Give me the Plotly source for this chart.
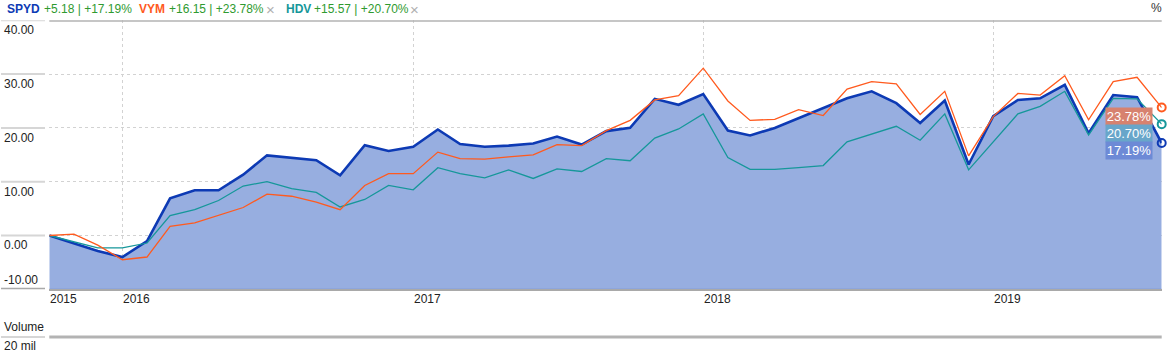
import pandas as pd
import plotly.graph_objects as go

# ---------------- data ----------------
dates = pd.date_range("2015-10-01", periods=47, freq="MS")

spyd = [0, -1.4, -2.9, -4.0, -1.05, 6.9, 8.4, 8.4, 11.3, 14.9, 14.4, 14.0, 11.2,
        16.8, 15.7, 16.5, 19.7, 17.0, 16.5, 16.7, 17.1, 18.4, 16.9, 19.4, 20.0,
        25.4, 24.3, 26.3, 19.5, 18.6, 20.0, 21.8, 23.6, 25.5, 26.8, 24.6, 20.9,
        25.1, 13.2, 22.2, 25.2, 25.5, 28.0, 19.0, 26.1, 25.7, 17.19]

vym = [0, 0.25, -1.8, -4.5, -4.0, 1.7, 2.35, 3.8, 5.2, 7.7, 7.3, 6.2, 4.8,
       9.3, 11.5, 11.5, 15.5, 14.3, 14.2, 14.6, 15.0, 16.9, 16.7, 19.5, 21.4,
       25.2, 26.0, 31.1, 25.0, 21.4, 21.6, 23.4, 22.3, 27.2, 28.6, 28.2, 22.5,
       26.8, 14.8, 22.1, 26.4, 26.1, 29.7, 21.5, 28.6, 29.4, 23.78]

hdv = [0, -1.2, -2.3, -2.3, -1.4, 3.7, 4.8, 6.5, 9.2, 10.0, 8.7, 8.0, 5.3,
       6.7, 9.3, 8.5, 12.6, 11.5, 10.7, 12.2, 10.6, 12.4, 11.9, 14.3, 13.9,
       18.1, 19.8, 22.6, 14.5, 12.3, 12.3, 12.6, 13.0, 17.4, 18.9, 20.3, 17.7,
       22.6, 12.2, 17.5, 22.6, 24.0, 26.8, 18.7, 25.5, 25.4, 20.70]

names = ["SPYD", "VYM", "HDV"]
changes = ["+5.18", "+16.15", "+15.57"]
pcts = ["+17.19%", "+23.78%", "+20.70%"]
end_labels = ["23.78%", "20.70%", "17.19%"]

y_ticks = [-10, 0, 10, 20, 30, 40]
year_ticks = ["2015-10-01", "2016-01-01", "2017-01-01", "2018-01-01", "2019-01-01"]
year_labels = ["2015", "2016", "2017", "2018", "2019"]
volume_title = "Volume"
volume_tick = "20 mil"

# ---------------- style ----------------
W, H = 1171, 363
FONT = "Liberation Sans, Arial, sans-serif"
C_SPYD = "#0d3ab4"
C_VYM = "#ff5a1e"
C_HDV = "#16979a"
C_FILL = "#97aee0"
C_GREEN = "#2f9a2f"
C_GRID = "#d2d2d2"
C_TXT = "#222222"


def px(x):
    return x / W


def py(y):
    return 1 - y / H


X0, X1 = 49.3, 1161.7
main_dom = [py(289.3), py(20.3)]
vol_dom = [0, py(337)]

fig = go.Figure()

# baseline for the area fill (bottom of the axis)
fig.add_trace(go.Scatter(x=dates, y=[y_ticks[0]] * len(dates), mode="lines",
                         line=dict(width=1, color="#7189cc"), hoverinfo="skip",
                         showlegend=False))
fig.add_trace(go.Scatter(x=dates, y=spyd, mode="lines", fill="tonexty",
                         fillcolor=C_FILL, line=dict(color=C_SPYD, width=2.6),
                         name="SPYD", showlegend=False))
fig.add_trace(go.Scatter(x=dates, y=hdv, mode="lines",
                         line=dict(color=C_HDV, width=1.3), name="HDV", showlegend=False))
fig.add_trace(go.Scatter(x=dates, y=vym, mode="lines",
                         line=dict(color=C_VYM, width=1.3), name="VYM", showlegend=False))

# end markers
for ser, col in [(spyd, C_SPYD), (hdv, C_HDV), (vym, C_VYM)]:
    fig.add_trace(go.Scatter(x=[dates[-1]], y=[ser[-1]], mode="markers",
                             marker=dict(symbol="circle-open", size=8, color=col,
                                         line=dict(width=2, color=col)),
                             cliponaxis=False, showlegend=False, hoverinfo="skip"))

ann = []
shapes = []

# header
hdr_x = [5, 137, 284]
val_x = [42, 167, 312]
close_x = [None, 264, 408]
name_cols = [C_SPYD, C_VYM, C_HDV]
for i in range(3):
    ann.append(dict(xref="paper", yref="paper", x=px(hdr_x[i]), y=py(9),
                    xanchor="left", yanchor="middle", showarrow=False,
                    text="<b>%s</b>" % names[i],
                    font=dict(family=FONT, size=12, color=name_cols[i])))
    ann.append(dict(xref="paper", yref="paper", x=px(val_x[i]), y=py(9),
                    xanchor="left", yanchor="middle", showarrow=False,
                    text="%s | %s" % (changes[i], pcts[i]),
                    font=dict(family=FONT, size=12, color=C_GREEN)))
    if close_x[i] is not None:
        ann.append(dict(xref="paper", yref="paper", x=px(close_x[i]), y=py(9),
                        xanchor="left", yanchor="middle", showarrow=False,
                        text="\u00d7", font=dict(family=FONT, size=15, color="#b0b0b0")))
ann.append(dict(xref="paper", yref="paper", x=px(1164), y=py(8),
                xanchor="right", yanchor="middle", showarrow=False, text="%",
                font=dict(family=FONT, size=12, color="#333333")))

# y tick labels & left segments
for v in y_ticks:
    bottom = v == y_ticks[0]
    ann.append(dict(xref="paper", yref="y", x=px(2), y=v,
                    xanchor="left", yanchor="bottom" if bottom else "top",
                    yshift=0 if bottom else -1, showarrow=False,
                    text="%.2f" % v,
                    font=dict(family=FONT, size=12, color=C_TXT)))
    shapes.append(dict(type="line", xref="paper", yref="y", x0=px(1), x1=px(45),
                       y0=v, y1=v,
                       line=dict(color="#a9a9a9" if bottom else "#d6d6d6",
                                 width=3 if bottom else 2)))

# top border of main pane
shapes.append(dict(type="line", xref="paper", yref="y", x0=px(X0), x1=px(X1),
                   y0=y_ticks[-1], y1=y_ticks[-1],
                   line=dict(color="#b3b3b3", width=3)))

# x labels
for d, lab in zip(year_ticks, year_labels):
    ann.append(dict(xref="x", yref="paper", x=d, y=py(290), xanchor="left",
                    yanchor="top", showarrow=False, text=lab, xshift=-1,
                    font=dict(family=FONT, size=12, color=C_TXT)))

# end value labels
lab_cols = ["#d7826f", "#68a6ca", "#6d8ad6"]
lab_y = [116.5, 133.5, 150.5]
for t, c, yy in zip(end_labels, lab_cols, lab_y):
    ann.append(dict(xref="paper", yref="paper", x=px(1153), y=py(yy),
                    xanchor="right", yanchor="middle", showarrow=False,
                    text=t, bgcolor=c, width=44, height=15, borderpad=1,
                    font=dict(family=FONT, size=13, color="white")))

# volume pane
ann.append(dict(xref="paper", yref="paper", x=px(2), y=py(327), xanchor="left",
                yanchor="middle", showarrow=False, text=volume_title,
                font=dict(family=FONT, size=12, color=C_TXT)))
ann.append(dict(xref="paper", yref="paper", x=px(2), y=py(346), xanchor="left",
                yanchor="middle", showarrow=False, text=volume_tick,
                font=dict(family=FONT, size=12, color=C_TXT)))
shapes.append(dict(type="line", xref="paper", yref="paper", x0=px(X0), x1=px(X1),
                   y0=py(337), y1=py(337), line=dict(color="#b3b3b3", width=3)))
shapes.append(dict(type="line", xref="paper", yref="paper", x0=px(1), x1=px(45),
                   y0=py(337), y1=py(337), line=dict(color="#d6d6d6", width=2)))

xrange = [dates[0], dates[-1]]
fig.update_layout(
    width=W, height=H,
    margin=dict(l=0, r=0, t=0, b=0),
    paper_bgcolor="white", plot_bgcolor="rgba(0,0,0,0)",
    showlegend=False,
    annotations=ann, shapes=shapes,
    xaxis=dict(domain=[px(X0), px(X1)], range=xrange, anchor="y",
               tickvals=year_ticks, showticklabels=False, ticks="",
               showgrid=True, gridcolor=C_GRID, griddash="dot", gridwidth=1,
               showline=True, linecolor="#a9a9a9", linewidth=2, zeroline=False,
               fixedrange=True),
    yaxis=dict(domain=main_dom, range=[y_ticks[0], y_ticks[-1]], anchor="x",
               tickvals=y_ticks, showticklabels=False, ticks="",
               showgrid=True, gridcolor=C_GRID, griddash="dot", gridwidth=1,
               zeroline=False, showline=False),
    xaxis2=dict(domain=[px(X0), px(X1)], range=xrange, anchor="y2",
                tickvals=year_ticks, showticklabels=False, ticks="",
                showgrid=True, gridcolor=C_GRID, griddash="dot", gridwidth=1,
                zeroline=False, showline=False),
    yaxis2=dict(domain=vol_dom, range=[0, 1], anchor="x2", showgrid=False,
                showticklabels=False, zeroline=False, ticks=""),
)

fig.write_html("out.html", config={"displayModeBar": False},
               post_script="document.body.style.margin='0px';document.body.style.padding='0px';")
